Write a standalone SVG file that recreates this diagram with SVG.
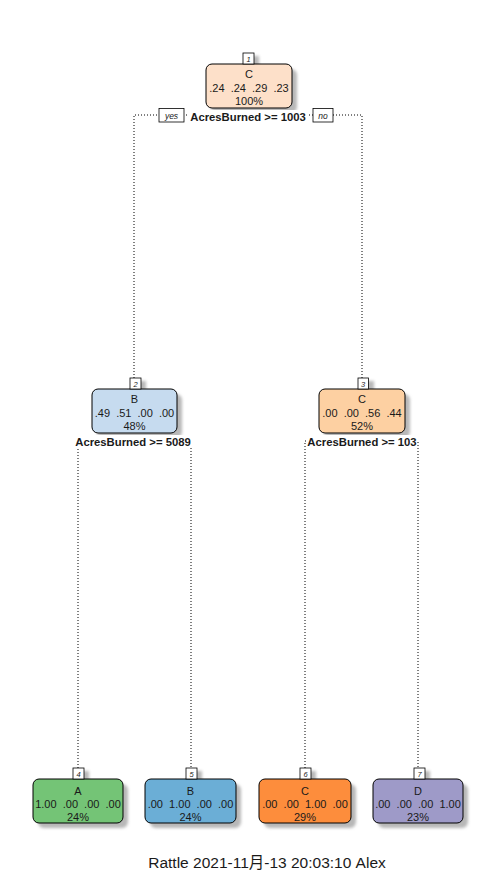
<svg xmlns="http://www.w3.org/2000/svg" width="497" height="875" viewBox="0 0 497 875">
<style>
text{font-family:"Liberation Sans",Arial,sans-serif;fill:#1a1a1a;text-anchor:middle;white-space:pre}
.t{font-size:11px}
.s{font-size:11.3px;font-weight:bold}
.n{font-size:7.5px;font-style:italic}
.yn{font-size:8.5px;font-style:italic}
.box{stroke:#000;stroke-width:1}
.lb{fill:#fff;stroke:#000;stroke-width:0.8}
.sh{fill:#b8b8b8;filter:url(#blur)}
.c{fill:none;stroke:#000;stroke-width:1;stroke-dasharray:1 2}
.foot{font-size:15.5px}
</style>
<defs>
<filter id="blur" x="-20%" y="-20%" width="140%" height="140%"><feGaussianBlur stdDeviation="1.6"/></filter>
</defs>
<g id="connectors">
<path class="c" d="M134,378 V115 H362 V378"/>
<path class="c" d="M78,768 V441 H191 V768"/>
<path class="c" d="M305,768 V441 H418 V768"/>
</g>
<g id="node1">
<rect class="sh" x="248" y="56" width="11" height="11"/>
<rect class="sh" x="211" y="69" width="86" height="44" rx="6"/>
<rect class="box" x="206" y="64" width="86" height="44" rx="6" fill="#fde0c9"/>
<rect class="lb" x="243" y="53" width="11" height="11"/>
<text class="n" x="248.5" y="61.5">1</text>
<text class="t" x="249" y="78">C</text>
<text class="t" x="249" y="92">.24  .24  .29  .23</text>
<text class="t" x="249" y="105">100%</text>
<rect x="187" y="110" width="121" height="13" fill="#fff"/>
<text class="s" x="248" y="121">AcresBurned &gt;= 1003</text>
<rect class="lb" x="159" y="108.5" width="25" height="13.5"/>
<text class="yn" x="171.5" y="118.5">yes</text>
<rect class="lb" x="313" y="108.5" width="20" height="13.5"/>
<text class="yn" x="323" y="118.5">no</text>
</g>
<g id="node2">
<rect class="sh" x="135" y="381" width="11" height="11"/>
<rect class="sh" x="97" y="394" width="85" height="44" rx="6"/>
<rect class="box" x="92" y="389" width="85" height="44" rx="6" fill="#c6dbef"/>
<rect class="lb" x="130" y="378" width="11" height="11"/>
<text class="n" x="135.5" y="386.5">2</text>
<text class="t" x="134.5" y="403">B</text>
<text class="t" x="134.5" y="417">.49  .51  .00  .00</text>
<text class="t" x="134.5" y="430">48%</text>
<rect x="74" y="435" width="118" height="13" fill="#fff"/>
<text class="s" x="133" y="446">AcresBurned &gt;= 5089</text>
</g>
<g id="node3">
<rect class="sh" x="363" y="381" width="11" height="11"/>
<rect class="sh" x="324" y="394" width="86" height="44" rx="6"/>
<rect class="box" x="319" y="389" width="86" height="44" rx="6" fill="#fdd0a2"/>
<rect class="lb" x="358" y="378" width="10.5" height="11"/>
<text class="n" x="363" y="386.5">3</text>
<text class="t" x="362" y="403">C</text>
<text class="t" x="362" y="417">.00  .00  .56  .44</text>
<text class="t" x="362" y="430">52%</text>
<rect x="306" y="435" width="111" height="13" fill="#fff"/>
<text class="s" x="362" y="446">AcresBurned &gt;= 103</text>
</g>
<g id="node4">
<rect class="sh" x="78" y="771" width="11" height="11"/>
<rect class="sh" x="38" y="784" width="90" height="44" rx="6"/>
<rect class="box" x="33" y="779" width="90" height="44" rx="6" fill="#74c476"/>
<rect class="lb" x="73" y="768" width="11" height="11"/>
<text class="n" x="78.5" y="776.5">4</text>
<text class="t" x="78" y="795">A</text>
<text class="t" x="78" y="808">1.00  .00  .00  .00</text>
<text class="t" x="78" y="821">24%</text>
</g>
<g id="node5">
<rect class="sh" x="191" y="771" width="11" height="11"/>
<rect class="sh" x="150" y="784" width="91" height="44" rx="6"/>
<rect class="box" x="145" y="779" width="91" height="44" rx="6" fill="#6baed6"/>
<rect class="lb" x="186" y="768" width="11" height="11"/>
<text class="n" x="191.5" y="776.5">5</text>
<text class="t" x="190.5" y="795">B</text>
<text class="t" x="190.5" y="808">.00  1.00  .00  .00</text>
<text class="t" x="190.5" y="821">24%</text>
</g>
<g id="node6">
<rect class="sh" x="305" y="771" width="11" height="11"/>
<rect class="sh" x="264" y="784" width="92" height="44" rx="6"/>
<rect class="box" x="259" y="779" width="92" height="44" rx="6" fill="#fd8d3c"/>
<rect class="lb" x="300" y="768" width="11" height="11"/>
<text class="n" x="305.5" y="776.5">6</text>
<text class="t" x="305" y="795">C</text>
<text class="t" x="305" y="808">.00  .00  1.00  .00</text>
<text class="t" x="305" y="821">29%</text>
</g>
<g id="node7">
<rect class="sh" x="419" y="771" width="11" height="11"/>
<rect class="sh" x="378" y="784" width="90" height="44" rx="6"/>
<rect class="box" x="373" y="779" width="90" height="44" rx="6" fill="#9e9ac8"/>
<rect class="lb" x="414" y="768" width="11" height="11"/>
<text class="n" x="419.5" y="776.5">7</text>
<text class="t" x="418" y="795">D</text>
<text class="t" x="418" y="808">.00  .00  .00  1.00</text>
<text class="t" x="418" y="821">23%</text>
</g>
<text class="foot" x="267" y="868" style="font-family:'Liberation Sans','Noto Sans CJK SC',sans-serif">Rattle 2021-11月-13 20:03:10 Alex</text>
</svg>
